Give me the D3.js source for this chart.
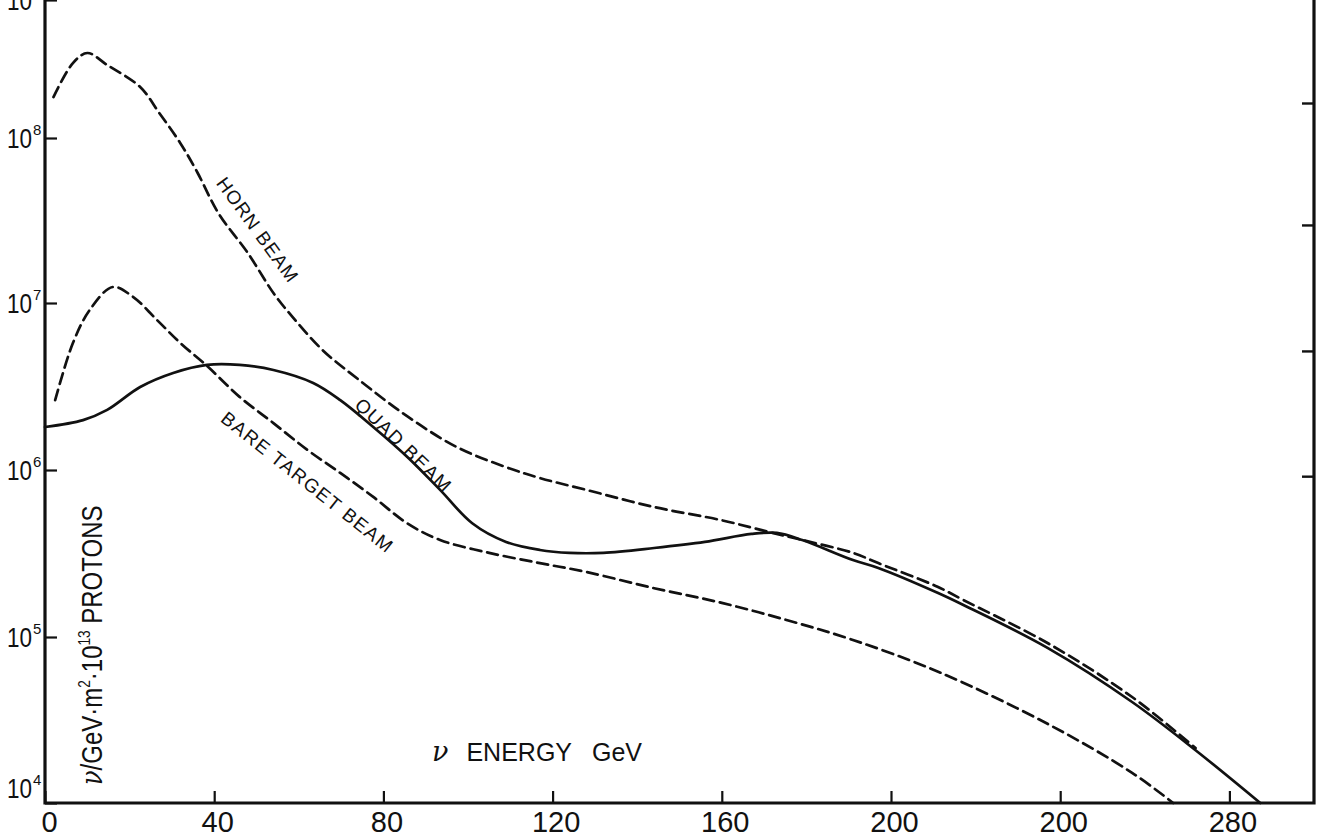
<!DOCTYPE html>
<html lang="en">
<head>
<meta charset="UTF-8" />
<title>Neutrino flux spectra</title>
<script src="https://d3js.org/d3.v7.min.js"></script>
<style>
  body { margin: 0; padding: 0; background: #fff; }
  svg { display: block; font-family: "Liberation Sans", Arial, sans-serif; }
  .curve { fill: none; stroke: #111; stroke-width: 2.7; stroke-linecap: round; }
  .frame { stroke: #111; stroke-width: 3.2; fill: none; }
</style>
</head>
<body>
<div id="chart"></div>
<script>
  // --- data (flux per GeV·m²·10^13 protons) ---
  const hornE = [2, 6.6, 10, 14.7, 22.5, 27, 32, 36, 41, 48, 54, 58.6, 65.7, 74, 85.6, 97.4, 109, 117, 128, 144, 160, 172, 179, 191, 197, 211, 217, 237, 257, 272];
  const hornFlux = [1.98e8, 3.49e8, 4.13e8, 3.38e8, 2.34e8, 1.52e8, 9.3e7, 6.2e7, 3.5e7, 2.0e7, 1.15e7, 8.2e6, 5.2e6, 3.5e6, 2.1e6, 1.37e6, 1.04e6, 8.95e5, 7.6e5, 6.0e5, 5.0e5, 4.2e5, 3.81e5, 3.19e5, 2.77e5, 2.0e5, 1.67e5, 9.2e4, 4.35e4, 2.14e4];

  const quadE = [0, 9, 14.7, 22.5, 30.3, 38.3, 46, 54, 63.4, 69.8, 77.6, 85.6, 93.4, 101, 109, 117, 124, 132, 144, 156, 167, 173, 179, 191, 197, 211, 217, 237, 257, 272, 287.3];
  const quadFlux = [1.81e6, 1.99e6, 2.29e6, 3.14e6, 3.81e6, 4.26e6, 4.26e6, 3.97e6, 3.32e6, 2.62e6, 1.81e6, 1.2e6, 7.6e5, 4.8e5, 3.71e5, 3.32e5, 3.19e5, 3.19e5, 3.41e5, 3.71e5, 4.14e5, 4.2e5, 3.81e5, 2.89e5, 2.59e5, 1.84e5, 1.56e5, 8.6e4, 4.06e4, 2.08e4, 1.0e4];

  const bareE = [2.4, 6.6, 10.6, 16, 20.8, 26.5, 32, 38.3, 46, 54, 62, 69.8, 77.6, 85.6, 93.4, 105, 117, 128, 144, 160, 175.5, 191, 211, 237, 257, 266.7];
  const bareFlux = [2.62e6, 5.76e6, 9.1e6, 1.25e7, 1.09e7, 7.9e6, 5.76e6, 4.2e6, 2.74e6, 1.91e6, 1.32e6, 9.6e5, 6.9e5, 4.8e5, 3.81e5, 3.19e5, 2.77e5, 2.45e5, 1.96e5, 1.6e5, 1.26e5, 9.6e4, 6.2e4, 3.0e4, 1.52e4, 1.0e4];

  // axis ticks (the printed figure repeats "200" at 240)
  const xTickValues = [0, 40, 80, 120, 160, 200, 240, 280];
  const xTickLabels = ["0", "40", "80", "120", "160", "200", "200", "280"];
  const yTickExponents = [4, 5, 6, 7, 8, 9];
  // short marks on the right-hand frame (as exponents)
  const rightTickExponents = [8.25, 7.47, 6.71, 5.96];

  // curve labels: text, energy, exponent of flux, angle
  const curveLabels = [
    { text: "HORN BEAM", e: 49.9, exp: 7.44, angle: 54, len: 124 },
    { text: "QUAD BEAM", e: 84.4, exp: 6.144, angle: 44, len: 125 },
    { text: "BARE TARGET BEAM", e: 61.7, exp: 5.922, angle: 38.5, len: 213 }
  ];

  const width = 1322, height = 838;

  const svg = d3.select("#chart").append("svg")
    .attr("width", width)
    .attr("height", height);

  const x = d3.scaleLinear().domain([0, 300]).range([45, 1314]);
  // decade spacing follows the printed (slightly uneven) axis
  const yExp = d3.scaleLinear().domain([4, 5, 6, 7, 8, 9]).range([803, 637, 470, 303, 138, 0]);
  const y = v => yExp(Math.log10(v));

  // frame
  svg.append("path").attr("class", "frame")
    .attr("d", `M${x(0)},${yExp(9)}V${yExp(4)}H${x(300)}V${yExp(9)}`);

  // bottom axis
  const xAxis = d3.axisBottom(x)
    .tickValues(xTickValues)
    .tickFormat((d, i) => xTickLabels[i])
    .tickSizeInner(-12)
    .tickSizeOuter(0)
    .tickPadding(8);

  svg.append("g")
    .attr("transform", `translate(0,${yExp(4)})`)
    .call(xAxis)
    .call(g => g.select(".domain").remove())
    .call(g => g.selectAll("line").attr("stroke", "#111").attr("stroke-width", 2.2))
    .call(g => g.selectAll("text")
      .attr("font-size", 29)
      .attr("font-family", "Liberation Sans, Arial, sans-serif")
      .attr("fill", "#111")
      .attr("dx", (d, i) => i === 0 ? 4 : 3));

  // left axis
  const yAxis = d3.axisLeft(yExp)
    .tickValues(yTickExponents)
    .tickSizeInner(-12)
    .tickSizeOuter(0)
    .tickFormat(() => "");

  const yg = svg.append("g")
    .attr("transform", `translate(${x(0)},0)`)
    .call(yAxis)
    .call(g => g.select(".domain").remove())
    .call(g => g.selectAll("line").attr("stroke", "#111").attr("stroke-width", 2.2));

  yg.selectAll(".tick text").remove();
  const tickLab = svg.append("g")
    .attr("font-family", "Liberation Sans, Arial, sans-serif")
    .attr("fill", "#111");
  yTickExponents.forEach(e => {
    const yy = yExp(e) + (e === 4 ? -15 : 0);
    const t = tickLab.append("text")
      .attr("x", 7)
      .attr("y", yy + 10)
      .attr("font-size", 28);
    t.append("tspan").text("10").attr("textLength", 25).attr("lengthAdjust", "spacingAndGlyphs");
    t.append("tspan").text(e).attr("font-size", 15).attr("dy", -13).attr("dx", 1);
  });

  // right frame marks
  svg.append("g").selectAll("line")
    .data(rightTickExponents)
    .join("line")
    .attr("x1", x(300) - 12)
    .attr("x2", x(300))
    .attr("y1", d => yExp(d))
    .attr("y2", d => yExp(d))
    .attr("stroke", "#111")
    .attr("stroke-width", 2.4);

  // curves
  const line = d3.line()
    .x(d => x(d[0]))
    .y(d => y(d[1]))
    .curve(d3.curveCatmullRom.alpha(0.5));

  svg.append("path").attr("class", "curve")
    .attr("d", line(d3.zip(hornE, hornFlux)))
    .attr("stroke-dasharray", "11,6");

  svg.append("path").attr("class", "curve")
    .attr("d", line(d3.zip(bareE, bareFlux)))
    .attr("stroke-dasharray", "11,6");

  svg.append("path").attr("class", "curve")
    .attr("d", line(d3.zip(quadE, quadFlux)));

  // curve labels
  svg.append("g").selectAll("text")
    .data(curveLabels)
    .join("text")
    .attr("transform", d => `translate(${x(d.e)},${yExp(d.exp)}) rotate(${d.angle})`)
    .attr("text-anchor", "middle")
    .attr("dominant-baseline", "middle")
    .attr("font-size", 19)
    .attr("fill", "#111")
    .attr("textLength", d => d.len)
    .attr("lengthAdjust", "spacing")
    .text(d => d.text);

  // x axis title
  const xt = svg.append("text")
    .attr("x", 432)
    .attr("y", 761)
    .attr("font-size", 25)
    .attr("fill", "#111");
  xt.append("tspan").text("ν")
    .attr("font-family", "DejaVu Serif, serif")
    .attr("font-style", "italic")
    .attr("font-size", 27);
  xt.append("tspan").text("ENERGY").attr("dx", 18);
  xt.append("tspan").text("GeV").attr("dx", 20);

  // y axis title
  const yt = svg.append("text")
    .attr("transform", `translate(102,785) rotate(-90) scale(0.8,1)`)
    .attr("font-size", 30)
    .attr("fill", "#111");
  yt.append("tspan").text("ν")
    .attr("font-family", "DejaVu Serif, serif")
    .attr("font-style", "italic");
  yt.append("tspan").text("/GeV·m");
  yt.append("tspan").text("2").attr("font-size", 17).attr("dy", -12);
  yt.append("tspan").text("·10").attr("dy", 12);
  yt.append("tspan").text("13").attr("font-size", 17).attr("dy", -12);
  yt.append("tspan").text(" PROTONS").attr("dy", 12);
</script>
</body>
</html>
